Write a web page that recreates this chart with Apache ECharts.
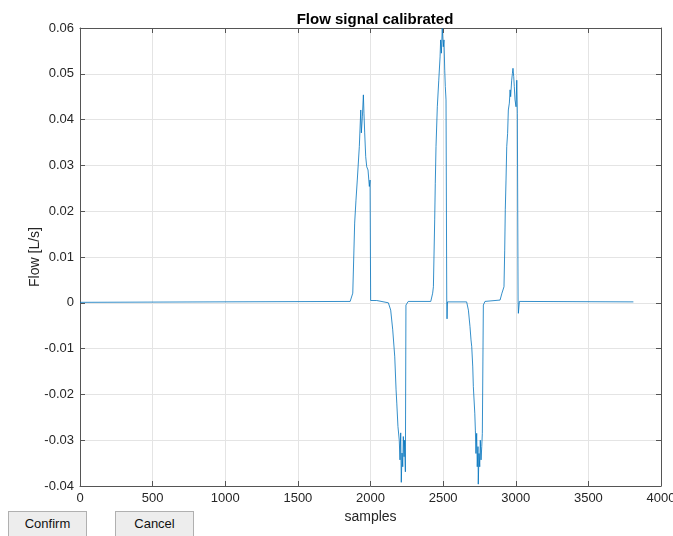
<!DOCTYPE html>
<html>
<head>
<meta charset="utf-8">
<title>Flow signal calibrated</title>
<script src="https://cdn.jsdelivr.net/npm/echarts@6/dist/echarts.min.js"></script>
<style>
    html, body { margin: 0; padding: 0; background: #fff; }
    #chart { position: absolute; left: 0; top: 0; width: 673px; height: 536px; }
    .btn {
        position: absolute;
        top: 511px;
        height: 30px;
        width: 79px;
        box-sizing: border-box;
        background: #ededed;
        border: 1px solid #b0b0b0;
        font-family: 'Liberation Sans', Arial, sans-serif;
        font-size: 13px;
        color: #111;
        text-align: center;
        line-height: 24px;
    }
</style>
</head>
<body>
<div id="chart"></div>
<div class="btn" style="left: 8px">Confirm</div>
<div class="btn" style="left: 115px">Cancel</div>

<script>
// samples (x) and calibrated flow in L/s (y)
const samples = [
    0, 1860, 1878, 1891, 1900, 1909, 1923, 1933, 1937, 1944, 1951, 1955, 1960,
    1967, 1974, 1983, 1992, 1997, 2001, 2043, 2045, 2123,
    2139, 2153, 2167, 2176, 2181, 2189, 2198, 2203, 2208, 2212, 2217, 2222,
    2226, 2231, 2235, 2240, 2244, 2260, 2415,
    2428, 2433, 2442, 2446, 2451, 2460, 2470, 2479, 2483, 2488, 2494, 2501,
    2506, 2511, 2515, 2520, 2525, 2527, 2530, 2662,
    2674, 2685, 2692, 2697, 2704, 2708, 2718, 2722, 2726, 2731, 2735, 2740,
    2742, 2747, 2752, 2756, 2761, 2766, 2770, 2777, 2788, 2892,
    2905, 2919, 2924, 2928, 2933, 2938, 2944, 2949, 2956, 2961, 2965, 2972,
    2977, 2981, 2986, 2990, 2995, 3002, 3007, 3011, 3016, 3018, 3025, 3810
];
const flow = [
    0.0001, 0.0003, 0.0021, 0.0174, 0.0224, 0.0268, 0.0341, 0.0421, 0.0371, 0.0406, 0.0454, 0.0414, 0.0371,
    0.0319, 0.0297, 0.0290, 0.0254, 0.0268, 0.0005, 0.0005, 0.0002, 0.0000,
    -0.0016, -0.0059, -0.0118, -0.0190, -0.0219, -0.0270, -0.0300, -0.0343, -0.0284, -0.0392, -0.0328, -0.0358,
    -0.0292, -0.0336, -0.0300, -0.0369, -0.0005, 0.0003, 0.0003,
    0.0021, 0.0035, 0.0181, 0.0261, 0.0341, 0.0428, 0.0486, 0.0537, 0.0574, 0.0545, 0.0599, 0.0559,
    0.0574, 0.0508, 0.0472, 0.0443, 0.0002, -0.0035, 0.0002, 0.0002,
    -0.0016, -0.0052, -0.0081, -0.0096, -0.0140, -0.0183, -0.0241, -0.0278, -0.0329, -0.0285, -0.0358, -0.0314,
    -0.0396, -0.0329, -0.0358, -0.0300, -0.0343, -0.0314, -0.0285, -0.0005, 0.0003, 0.0006,
    0.0021, 0.0035, 0.0115, 0.0203, 0.0268, 0.0341, 0.0370, 0.0421, 0.0436, 0.0465, 0.0450, 0.0486,
    0.0501, 0.0512, 0.0494, 0.0472, 0.0443, 0.0428, 0.0486, 0.0414, 0.0006, -0.0023, 0.0003, 0.0002
];

const fontFamily = "'Liberation Sans', Arial, Helvetica, sans-serif";
const axisColor = '#555';
const gridColor = '#e4e4e4';

let chart = echarts.init(document.getElementById('chart'));

const boxAxis = {
    axisLine: { show: true, onZero: false, lineStyle: { color: axisColor, width: 1 } },
    axisTick: { show: true, inside: true, length: 5, lineStyle: { color: axisColor } },
    minorTick: { show: false }
};

chart.setOption({
    animation: false,
    backgroundColor: '#fff',
    title: {
        text: 'Flow signal calibrated',
        left: 370,
        textAlign: 'center',
        top: 7,
        textStyle: { fontFamily: fontFamily, fontSize: 15, fontWeight: 'bold', color: '#000' }
    },
    grid: { left: 80, right: 12, top: 28, bottom: 50, outerBoundsMode: 'none', containLabel: false },
    xAxis: [{
        type: 'value',
        min: 0,
        max: 4000,
        interval: 500,
        position: 'bottom',
        ...boxAxis,
        splitLine: { show: true, lineStyle: { color: gridColor, width: 1 } },
        axisLabel: {
            margin: 6,
            fontFamily: fontFamily,
            fontSize: 13,
            color: '#262626',
            formatter: function (v) { return String(v); }
        },
        name: 'samples',
        nameLocation: 'middle',
        nameGap: 24,
        nameMoveOverlap: false,
        nameTextStyle: { fontFamily: fontFamily, fontSize: 14, color: '#262626' }
    }, {
        type: 'value',
        min: 0,
        max: 4000,
        interval: 500,
        position: 'top',
        ...boxAxis,
        splitLine: { show: false },
        axisLabel: { show: false }
    }],
    yAxis: [{
        type: 'value',
        min: -0.04,
        max: 0.06,
        interval: 0.01,
        position: 'left',
        ...boxAxis,
        splitLine: { show: true, lineStyle: { color: gridColor, width: 1 } },
        axisLabel: {
            margin: 6,
            fontFamily: fontFamily,
            fontSize: 13,
            color: '#262626',
            formatter: function (v) {
                return parseFloat(v.toFixed(2)).toString();
            }
        },
        name: 'Flow [L/s]',
        nameLocation: 'middle',
        nameGap: 38,
        nameMoveOverlap: false,
        nameTextStyle: { fontFamily: fontFamily, fontSize: 14, color: '#262626' }
    }, {
        type: 'value',
        min: -0.04,
        max: 0.06,
        interval: 0.01,
        position: 'right',
        ...boxAxis,
        splitLine: { show: false },
        axisLabel: { show: false }
    }],
    series: [{
        name: 'flow',
        type: 'line',
        xAxisIndex: 0,
        yAxisIndex: 0,
        showSymbol: false,
        symbol: 'none',
        lineStyle: { color: '#0072BD', width: 0.8 },
        data: samples.map((s, i) => [s, flow[i]])
    }]
});
</script>
</body>
</html>
